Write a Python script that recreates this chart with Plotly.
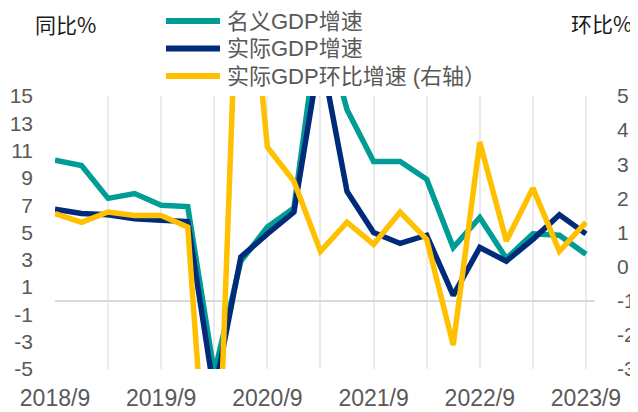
import plotly.graph_objects as go

quarters = ["2018/9", "2018/12", "2019/3", "2019/6", "2019/9", "2019/12",
            "2020/3", "2020/6", "2020/9", "2020/12", "2021/3", "2021/6",
            "2021/9", "2021/12", "2022/3", "2022/6", "2022/9", "2022/12",
            "2023/3", "2023/6", "2023/9"]
nominal_yoy = [10.3, 9.9, 7.5, 7.85, 7.0, 6.9, -5.3, 2.9, 5.4, 6.8, 21.2, 14.0,
               10.2, 10.2, 8.9, 3.9, 6.1, 3.1, 4.9, 4.8, 3.4]
real_yoy = [6.7, 6.4, 6.3, 6.0, 5.9, 5.8, -6.8, 3.2, 4.9, 6.5, 18.3, 8.0,
            5.0, 4.2, 4.8, 0.4, 3.9, 2.9, 4.5, 6.3, 4.9]
real_qoq = [1.55, 1.3, 1.6, 1.5, 1.5, 1.16, -9.7, 11.6, 3.5, 2.5, 0.45, 1.3,
            0.65, 1.6, 0.8, -2.3, 3.65, 0.75, 2.3, 0.45, 1.3]
series_names = ["名义GDP增速", "实际GDP增速", "实际GDP环比增速 (右轴）"]
colors = ["#009C96", "#002A7A", "#FFC000"]
left_ticks = list(range(-5, 16, 2))
right_ticks = list(range(-3, 6, 1))
xtick_every = 4

# the page body adds an 8px margin; the figure is sized to fill the rest
OFF = 8
W, H = 638 - OFF, 412 - OFF
L, R, T, B = 55 - OFF, 43, 96 - OFF, 43
pw, ph = W - L - R, H - T - B


def px(x):
    return (x - OFF - L) / pw


def py(y):
    return (H - B - (y - OFF)) / ph


fig = go.Figure()
fig.add_trace(go.Scatter(x=quarters, y=nominal_yoy, mode="lines", name=series_names[0],
                         line=dict(color=colors[0], width=5.5), yaxis="y"))
fig.add_trace(go.Scatter(x=quarters, y=real_yoy, mode="lines", name=series_names[1],
                         line=dict(color=colors[1], width=5.5), yaxis="y"))
fig.add_trace(go.Scatter(x=quarters, y=real_qoq, mode="lines", name=series_names[2],
                         line=dict(color=colors[2], width=5.5), yaxis="y2"))

font_main = "Liberation Sans, Arial, Noto Sans CJK SC, sans-serif"
grey = "#595959"

fig.update_layout(
    width=W, height=H,
    margin=dict(l=L, r=R, t=T, b=B, autoexpand=False),
    plot_bgcolor="white", paper_bgcolor="white",
    showlegend=False,
    font=dict(family=font_main, color=grey),
    xaxis=dict(
        type="category", range=[0, len(quarters) - 1 + 0.34],
        tickmode="array",
        tickvals=quarters[::2],
        ticktext=[q if i % xtick_every == 0 else "" for i, q in enumerate(quarters)][::2],
        showgrid=True, gridcolor="#EBEBEB", gridwidth=2,
        showline=False, ticks="", zeroline=False, automargin=False,
        tickfont=dict(size=23, color=grey, family=font_main),
        ticklabelstandoff=13,
    ),
    yaxis=dict(
        range=[-5, 15], tickmode="array", tickvals=left_ticks,
        ticktext=[str(v) for v in left_ticks],
        showgrid=False, zeroline=True, zerolinecolor="#D9D9D9", zerolinewidth=1.5,
        showline=False, ticks="", automargin=False,
        tickfont=dict(size=21, color=grey, family=font_main),
        ticklabelstandoff=21,
    ),
    yaxis2=dict(
        range=[-3, 5], tickmode="array", tickvals=right_ticks,
        ticktext=[str(v) for v in right_ticks],
        overlaying="y", side="right",
        showgrid=False, zeroline=False, showline=False, ticks="", automargin=False,
        tickfont=dict(size=21, color=grey, family=font_main),
        ticklabelstandoff=21,
    ),
)

# axis unit titles
fig.add_annotation(text="同比%", x=px(33), y=py(24), xref="paper", yref="paper",
                   showarrow=False, xanchor="left", yanchor="middle",
                   font=dict(size=21, color="#1A1A1A", family="Noto Sans CJK SC"))
fig.add_annotation(text="环比%", x=px(634), y=py(23), xref="paper", yref="paper",
                   showarrow=False, xanchor="right", yanchor="middle",
                   font=dict(size=21, color="#1A1A1A", family="Noto Sans CJK SC"))

# legend (drawn manually to match the long line samples)
rows = [21, 48.5, 76]
for name, c, yy in zip(series_names, colors, rows):
    fig.add_shape(type="line", xref="paper", yref="paper",
                  x0=px(166), x1=px(220), y0=py(yy), y1=py(yy),
                  line=dict(color=c, width=6))
    fig.add_annotation(text=name, x=px(225), y=py(yy), xref="paper", yref="paper",
                       showarrow=False, xanchor="left", yanchor="middle",
                       font=dict(size=22, color=grey, family=font_main))

fig.write_html("out.html")
